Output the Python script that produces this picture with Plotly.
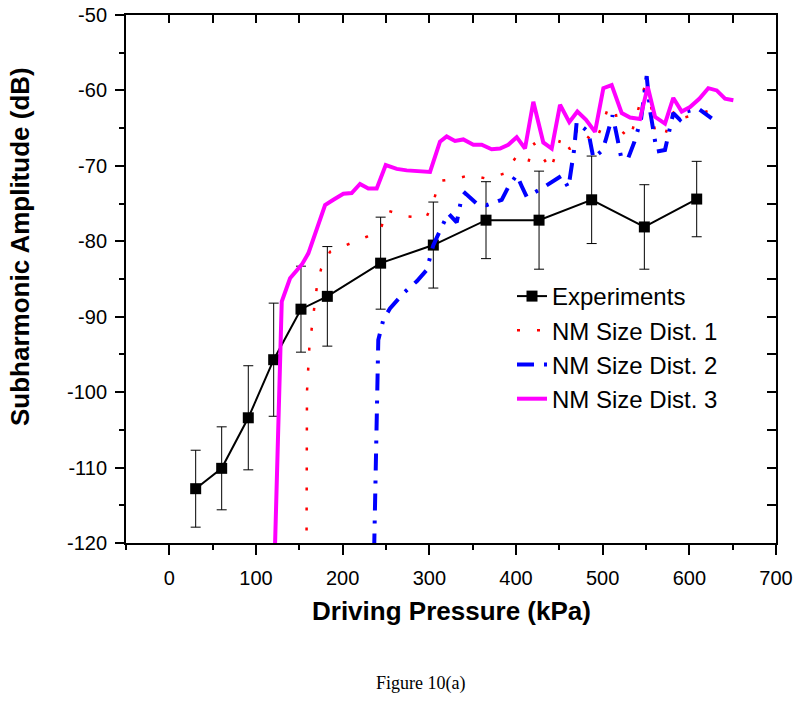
import plotly.graph_objects as go

# ---------------- data ----------------
exp_x = [30.4, 60.4, 91.1, 120.4, 151.9, 182.3, 243.8, 304.6, 365.4, 426.6, 487.3, 548.1, 608.5]
exp_y = [-112.8, -110.1, -103.4, -95.7, -89.0, -87.3, -82.9, -80.5, -77.2, -77.2, -74.5, -78.1, -74.4]
exp_err = [5.1, 5.5, 6.9, 7.5, 5.7, 6.6, 6.1, 5.7, 5.1, 6.5, 5.8, 5.6, 5.0]

red_x = [158.3, 158.8, 161.5, 164.3, 166.9, 170.0, 175.0, 185.4, 208.5, 227.7, 243.9, 250.8, 273.9,
         296.2, 304.6, 311.5, 331.6, 347.0, 366.2, 387.3, 400.8, 414.2, 420.0, 427.7, 440.0, 446.2,
         452.0, 462.3, 471.9, 479.6, 491.2, 498.9, 506.5, 514.2, 518.0, 531.6, 550.8, 560.4, 571.9,
         577.7, 585.4, 593.9, 629.6]
red_y = [-121, -100, -94.2, -91.5, -88.9, -86.2, -83.7, -81.4, -80.3, -79.4, -78.4, -75.9, -76.7,
         -76.9, -74.8, -72.0, -71.7, -71.2, -71.7, -71.0, -68.7, -69.6, -66.9, -68.3, -70.5, -68.3,
         -66.1, -67.8, -64.8, -65.9, -66.9, -64.8, -62.2, -62.4, -65.0, -66.4, -58.5, -65.4, -66.1,
         -63.5, -62.4, -63.6, -62.5]

blue_x = [236.3, 239.3, 241.1, 246.9, 254.6, 270.0, 285.5, 297.0, 304.6, 314.3, 321.9, 331.6, 337.4,
          341.2, 354.6, 366.2, 383.5, 391.2, 400.8, 406.6, 412.3, 429.7, 439.3, 452.8, 460.5, 464.3,
          467.0, 470.0, 483.5, 489.3, 500.0, 503.9, 511.5, 517.4, 521.2, 529.0, 536.7, 544.4, 550.8,
          554.6, 560.4, 562.4, 571.9, 575.8, 581.5, 589.2, 596.9, 610.4, 625.8]
blue_y = [-121, -101, -93.1, -90.4, -88.9, -86.9, -85.3, -83.8, -80.5, -78.1, -76.3, -77.5, -74.1,
          -73.6, -75.0, -75.2, -74.5, -72.8, -71.2, -72.7, -74.1, -73.0, -72.3, -71.3, -72.9, -69.7,
          -67.9, -64.2, -65.5, -69.0, -67.9, -66.4, -63.3, -66.6, -68.8, -69.1, -66.8, -63.7, -58.1,
          -62.6, -66.6, -68.1, -67.9, -65.9, -63.0, -63.9, -62.8, -62.4, -63.7]

mag_x = [121.8, 129.7, 139.3, 152.8, 160.4, 170.0, 179.7, 189.3, 200.8, 210.4, 220.0, 229.6, 239.3,
         249.7, 262.4, 273.9, 289.3, 300.8, 312.3, 320.0, 329.6, 339.2, 350.8, 360.4, 371.9, 381.6,
         391.1, 400.8, 410.4, 420.0, 431.5, 441.2, 450.8, 461.5, 470.8, 480.8, 491.2, 500.8, 510.4,
         522.0, 531.6, 543.1, 552.0, 560.4, 571.9, 581.5, 591.2, 600.8, 611.5, 621.9, 631.6, 641.2, 650.8]
mag_y = [-121, -88.0, -84.9, -83.1, -81.6, -78.5, -75.2, -74.5, -73.7, -73.6, -72.4, -73.0, -73.0,
         -69.9, -70.4, -70.6, -70.7, -70.8, -66.8, -66.1, -66.7, -66.5, -67.2, -67.2, -67.8, -67.7,
         -67.2, -66.2, -67.7, -61.5, -66.9, -67.7, -61.9, -64.2, -62.8, -63.9, -65.5, -59.7, -59.3,
         -63.0, -63.6, -63.8, -59.5, -63.5, -64.4, -61.0, -62.8, -62.2, -61.1, -59.7, -60.0, -61.1, -61.3]

x_ticks = [0, 100, 200, 300, 400, 500, 600, 700]
x_tick_labels = ["0", "100", "200", "300", "400", "500", "600", "700"]
y_ticks = [-120, -110, -100, -90, -80, -70, -60, -50]
y_tick_labels = ["-120", "-110", "-100", "-90", "-80", "-70", "-60", "-50"]

x_range = [-50, 700]
y_range = [-120, -50]

FONT = "Liberation Sans, Arial, sans-serif"

W, H = 800, 724
ML, MT = 126, 15          # plot area: x 126..776, y 15..543
PW, PH = 650, 528
MR, MB = W - ML - PW, H - MT - PH

fig = go.Figure()

fig.add_trace(go.Scatter(
    x=exp_x, y=exp_y, mode="lines+markers", name="Experiments",
    line=dict(color="black", width=2),
    marker=dict(symbol="square", size=11, color="black"),
    error_y=dict(type="data", array=exp_err, visible=True, color="black", thickness=1, width=5),
))
fig.add_trace(go.Scatter(
    x=red_x, y=red_y, mode="lines", name="NM Size Dist. 1",
    line=dict(color="#ff0000", width=2.5, dash="3px,17px"),
))
fig.add_trace(go.Scatter(
    x=blue_x, y=blue_y, mode="lines", name="NM Size Dist. 2",
    line=dict(color="#0000ff", width=4, dash="17px,10px,3px,10px"),
))
fig.add_trace(go.Scatter(
    x=mag_x, y=mag_y, mode="lines", name="NM Size Dist. 3",
    line=dict(color="#ff00ff", width=4),
))
# dummy trace to activate mirrored axes with inward ticks
fig.add_trace(go.Scatter(x=[None], y=[None], xaxis="x2", yaxis="y2", showlegend=False, hoverinfo="skip"))

tickfont = dict(family=FONT, size=20, color="black")


def px_x(sx):
    return (sx - ML) / PW


def px_y(sy):
    return (MT + PH - sy) / PH


fig.update_layout(
    width=W, height=H,
    margin=dict(l=ML, r=MR, t=MT, b=MB, pad=0),
    paper_bgcolor="white", plot_bgcolor="white",
    showlegend=True,
    legend=dict(x=px_x(512), y=px_y(274), xanchor="left", yanchor="top",
                font=dict(family=FONT, size=24, color="black"),
                bgcolor="rgba(0,0,0,0)", tracegroupgap=0),
    xaxis=dict(range=x_range, showgrid=False, zeroline=False, automargin=False,
               showline=True, linecolor="black", linewidth=2, mirror=True,
               ticks="outside", ticklen=10, tickwidth=1.5, tickcolor="black",
               tickmode="array", tickvals=x_ticks, ticktext=x_tick_labels,
               tickfont=tickfont, ticklabelstandoff=6, ticklabeloverflow="allow",
               minor=dict(ticks="outside", ticklen=5, tickwidth=1.5, tickcolor="black", dtick=50, tick0=0)),
    yaxis=dict(range=y_range, showgrid=False, zeroline=False, automargin=False,
               showline=True, linecolor="black", linewidth=2, mirror=True,
               ticks="outside", ticklen=9, tickwidth=1.5, tickcolor="black",
               tickmode="array", tickvals=y_ticks, ticktext=y_tick_labels,
               tickfont=tickfont, ticklabelstandoff=4, ticklabeloverflow="allow",
               minor=dict(ticks="outside", ticklen=5, tickwidth=1.5, tickcolor="black", dtick=5, tick0=-120)),
    xaxis2=dict(range=x_range, overlaying="x", side="top", anchor="y2", showgrid=False, zeroline=False,
                automargin=False, showline=False, showticklabels=False, ticks="inside", ticklen=8,
                tickwidth=1.5, tickcolor="black", tick0=0, dtick=100,
                minor=dict(ticks="inside", ticklen=8, tickwidth=1.5, tickcolor="black", dtick=50, tick0=0)),
    yaxis2=dict(range=y_range, overlaying="y", side="right", anchor="x2", showgrid=False, zeroline=False,
                automargin=False, showline=False, showticklabels=False, ticks="inside", ticklen=9,
                tickwidth=1.5, tickcolor="black", tick0=-120, dtick=10,
                minor=dict(ticks="inside", ticklen=9, tickwidth=1.5, tickcolor="black", dtick=5, tick0=-120)),
    annotations=[
        dict(text="<b>Driving Pressure (kPa)</b>", xref="paper", yref="paper",
             x=px_x(451), y=px_y(611), xanchor="center", yanchor="middle", showarrow=False,
             font=dict(family=FONT, size=26, color="black")),
        dict(text="<b>Subharmonic Amplitude (dB)</b>", xref="paper", yref="paper",
             x=px_x(20), y=px_y(247), xanchor="center", yanchor="middle",
             textangle=-90, showarrow=False,
             font=dict(family=FONT, size=26, color="black")),
        dict(text="Figure 10(a)", xref="paper", yref="paper",
             x=px_x(420), y=px_y(683), xanchor="center", yanchor="middle",
             showarrow=False,
             font=dict(family="Liberation Serif, Times New Roman, serif", size=18, color="black")),
    ],
)

# remove the default 8px body margin so the 800x724 figure fills the window exactly
fig.write_html("out.html", config={"displayModeBar": False},
               post_script="document.body.style.margin='0px';")
